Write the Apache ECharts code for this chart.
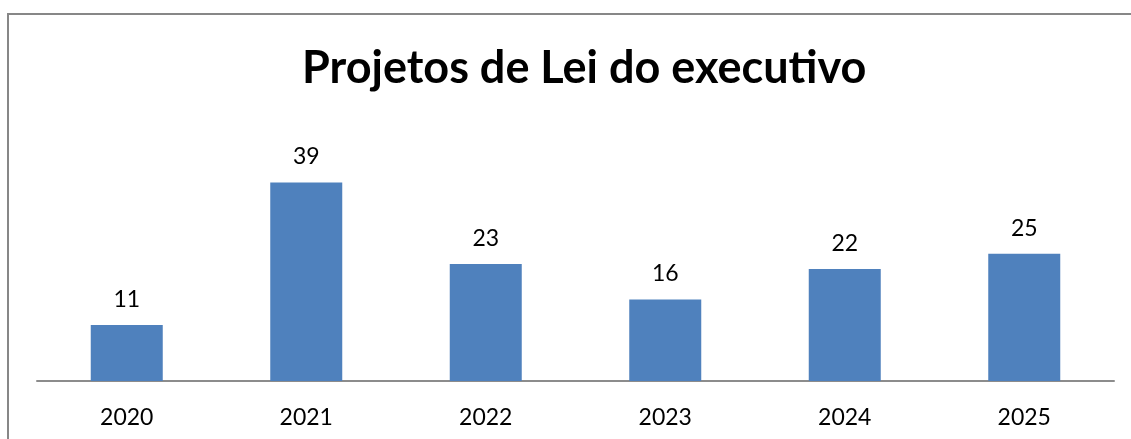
<!DOCTYPE html>
<html>
<head>
<meta charset="utf-8">
<script src="https://cdn.jsdelivr.net/npm/echarts@6/dist/echarts.min.js"></script>
<style>
    html, body { margin: 0; padding: 0; background: #fff; }
    #chart { width: 1131px; height: 439px; }
</style>
</head>
<body>
<div id="chart"></div>
<script>
    // anos e quantidade de projetos
    const anos = ['2020', '2021', '2022', '2023', '2024', '2025'];
    const projetos = [11, 39, 23, 16, 22, 25];
    const titulo = 'Projetos de Lei do executivo';

    let myChart = echarts.init(document.getElementById('chart'));
    let option = {
        backgroundColor: '#fff',
        animation: false,
        title: {
            text: titulo,
            left: 297,
            top: 41,
            textStyle: {
                fontFamily: 'Lato',
                fontWeight: 'bold',
                fontSize: 45,
                color: '#000'
            }
        },
        graphic: [{
            type: 'rect',
            shape: { x: 8, y: 14, width: 1200, height: 500 },
            style: { fill: 'none', stroke: '#878787', lineWidth: 2 }
        }],
        grid: {
            left: 37,
            right: 17,
            top: 152,
            bottom: 58
        },
        xAxis: {
            type: 'category',
            data: anos,
            axisLine: { lineStyle: { color: '#8c8c8c', width: 2 } },
            axisTick: { show: false },
            axisLabel: {
                margin: 25,
                fontFamily: 'Lato',
                fontSize: 23,
                color: '#000'
            }
        },
        yAxis: {
            type: 'value',
            min: 0,
            max: 45,
            show: false
        },
        series: [{
            type: 'bar',
            data: projetos,
            barWidth: 72,
            itemStyle: { color: '#4F81BD' },
            label: {
                show: true,
                position: 'top',
                distance: 14,
                fontFamily: 'Lato',
                fontSize: 23,
                color: '#000'
            }
        }]
    };
    myChart.setOption(option, true);
</script>
</body>
</html>
